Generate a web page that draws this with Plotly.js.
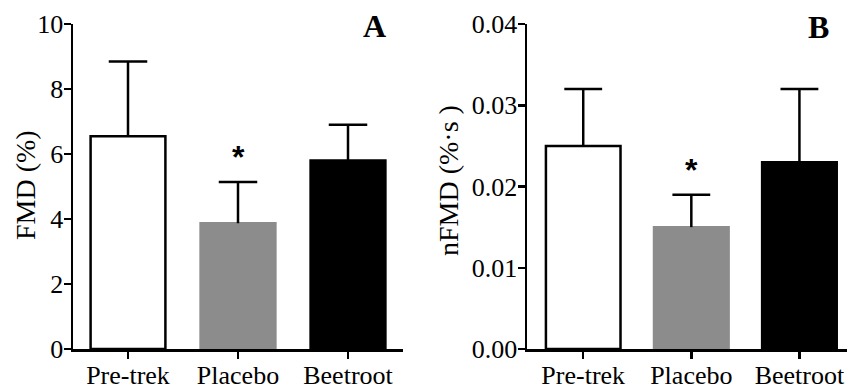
<!DOCTYPE html>
<html>
<head>
<meta charset="utf-8">
<script src="https://cdn.plot.ly/plotly-3.0.1.min.js"></script>
<style>html,body{margin:0;padding:0;background:#fff;}#chart{width:847px;height:389px;}</style>
</head>
<body>
<div id="chart"></div>
<script>
// ---- data ----
var categories = ["Pre-trek", "Placebo", "Beetroot"];
var fmdValues = [6.55, 3.87, 5.8];
var fmdErrors = [2.3, 1.27, 1.1];
var nfmdValues = [0.025, 0.015, 0.023];
var nfmdErrors = [0.007, 0.004, 0.009];
var fmdTicks = [0, 2, 4, 6, 8, 10];
var nfmdTicks = [0, 0.01, 0.02, 0.03, 0.04];
var significant = [false, true, false];
var fmdTitle = "FMD (%)";
var nfmdTitle = "nFMD (%·s )";
var panelLabels = ["A", "B"];

// ---- style ----
var FONT = "Liberation Serif, Times New Roman, serif";
var STARFONT = "Liberation Sans, Arial, sans-serif";
var fillColors = ["#ffffff", "#8c8c8c", "#000000"];
var lineColors = ["#000000", "#8c8c8c", "#000000"];
var LW = 2.5;
var CAP = 0.175;
var H = 389, W = 847, MT = 24, MB = 40;
var plotH = H - MT - MB;
var positions = categories.map(function (c, i) { return i; });

function py(pxFromTop) { return (H - MB - pxFromTop) / plotH; }

function errorLines(vals, errs) {
  var x = [], y = [];
  vals.forEach(function (v, i) {
    var top = v + errs[i];
    x.push(i, i, null, i - CAP, i + CAP, null);
    y.push(v, top, null, top, top, null);
  });
  return { x: x, y: y };
}

function barTrace(vals, xa, ya, width) {
  return {
    type: "bar", x: positions, y: vals, xaxis: xa, yaxis: ya, width: width,
    marker: { color: fillColors, line: { color: lineColors, width: LW } },
    hoverinfo: "skip"
  };
}
function errTrace(vals, errs, xa, ya) {
  var e = errorLines(vals, errs);
  return {
    type: "scatter", mode: "lines", x: e.x, y: e.y, xaxis: xa, yaxis: ya,
    line: { color: "#000", width: LW }, hoverinfo: "skip", connectgaps: false
  };
}

var data = [
  barTrace(fmdValues, "x", "y", 0.68),
  errTrace(fmdValues, fmdErrors, "x", "y"),
  barTrace(nfmdValues, "x2", "y2", 0.69),
  errTrace(nfmdValues, nfmdErrors, "x2", "y2")
];

var annotations = [];
significant.forEach(function (s, i) {
  if (!s) return;
  annotations.push({ x: i, y: fmdValues[i] + fmdErrors[i], xref: "x", yref: "y", text: "<b>*</b>",
    showarrow: false, yshift: 25, xanchor: "center", yanchor: "middle",
    font: { family: STARFONT, size: 32, color: "#000" } });
  annotations.push({ x: i, y: nfmdValues[i] + nfmdErrors[i], xref: "x2", yref: "y2", text: "<b>*</b>",
    showarrow: false, yshift: 25, xanchor: "center", yanchor: "middle",
    font: { family: STARFONT, size: 32, color: "#000" } });
});
annotations.push({ x: 374 / W, y: py(26), xref: "paper", yref: "paper", text: "<b>" + panelLabels[0] + "</b>",
  showarrow: false, xanchor: "center", yanchor: "middle", font: { family: FONT, size: 32, color: "#000" } });
annotations.push({ x: 818 / W, y: py(27), xref: "paper", yref: "paper", text: "<b>" + panelLabels[1] + "</b>",
  showarrow: false, xanchor: "center", yanchor: "middle", font: { family: FONT, size: 32, color: "#000" } });
// y-axis titles
annotations.push({ x: 25 / W, y: py(185), xref: "paper", yref: "paper", text: fmdTitle, textangle: -90,
  showarrow: false, xanchor: "center", yanchor: "middle", font: { family: FONT, size: 28, color: "#000" } });
annotations.push({ x: 448 / W, y: py(181), xref: "paper", yref: "paper", text: nfmdTitle, textangle: -90,
  showarrow: false, xanchor: "center", yanchor: "middle", font: { family: FONT, size: 28, color: "#000" } });

function xAxis(domain, range, anchor) {
  return {
    domain: domain, range: range, anchor: anchor, type: "linear",
    tickmode: "array", tickvals: positions, ticktext: categories,
    ticks: "outside", ticklen: 7, tickwidth: LW, tickcolor: "#000",
    ticklabelstandoff: -6,
    showline: true, linewidth: LW, linecolor: "#000",
    showgrid: false, zeroline: false, fixedrange: true,
    tickfont: { family: FONT, size: 26, color: "#000" }
  };
}
function yAxis(range, ticks, fmt, anchor) {
  return {
    domain: [0, 1], range: range, anchor: anchor,
    tickmode: "array", tickvals: ticks, tickformat: fmt,
    ticks: "outside", ticklen: 7, tickwidth: LW, tickcolor: "#000",
    ticklabelstandoff: -5,
    showline: true, linewidth: LW, linecolor: "#000",
    showgrid: false, zeroline: false, fixedrange: true,
    tickfont: { family: FONT, size: 26, color: "#000" }
  };
}

var layout = {
  width: W, height: H,
  margin: { l: 0, r: 0, t: MT, b: MB, pad: 0 },
  paper_bgcolor: "#fff", plot_bgcolor: "#fff",
  showlegend: false, bargap: 0,
  xaxis: xAxis([73 / W, 403 / W], [-0.5, 2.5], "y"),
  yaxis: yAxis([0, 10], fmdTicks, "d", "x"),
  xaxis2: xAxis([527 / W, 1], [-0.52, 2.44], "y2"),
  yaxis2: yAxis([0, 0.04], nfmdTicks, ".2f", "x2"),
  annotations: annotations
};

Plotly.newPlot("chart", data, layout, { displayModeBar: false, staticPlot: true });
</script>
</body>
</html>
